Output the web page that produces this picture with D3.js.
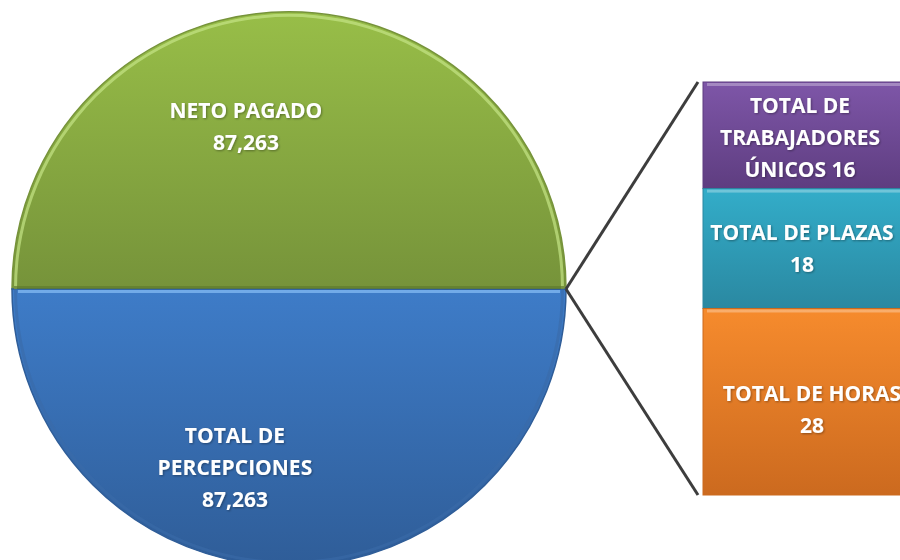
<!DOCTYPE html>
<html>
<head>
<meta charset="utf-8">
<script src="https://cdn.jsdelivr.net/npm/d3@7"></script>
<style>
  body { margin: 0; background: #fff; }
  svg text { font-family: "Open Sans", sans-serif; font-weight: bold; fill: #fff; }
</style>
</head>
<body>
<div id="chart-area"></div>
<script>

// Pie (two big slices) + the small "other" group shown as a bar
var pieLabels = ["NETO PAGADO", "TOTAL DE\nPERCEPCIONES"];
var pieValues = [87263, 87263];
var barLabels = ["TOTAL DE\nTRABAJADORES\nÚNICOS", "TOTAL DE PLAZAS", "TOTAL DE HORAS"];
var barValues = [16, 18, 28];

var width = 900, height = 560;

var svg = d3.select("#chart-area").append("svg")
    .attr("width", width)
    .attr("height", height);

var defs = svg.append("defs");

// gradients, top colour -> bottom colour
var pieColors = [["#98be48", "#76933a"], ["#3e7cc8", "#2f5d98"]];
var barColors = [["#7e56a8", "#5e3d80"], ["#33adc9", "#2a88a1"], ["#f68b2d", "#cc6a1f"]];

function grad(id, c) {
    var lg = defs.append("linearGradient")
        .attr("id", id)
        .attr("x1", 0).attr("y1", 0).attr("x2", 0).attr("y2", 1);
    lg.append("stop").attr("offset", "0%").attr("stop-color", c[0]);
    lg.append("stop").attr("offset", "100%").attr("stop-color", c[1]);
}
pieColors.forEach(function(c, i){ grad("pg" + i, c); });
barColors.forEach(function(c, i){ grad("bg" + i, c); });

// soft text shadow
var sh = defs.append("filter").attr("id", "tshadow")
    .attr("x", "-10%").attr("y", "-10%").attr("width", "120%").attr("height", "130%");
sh.append("feDropShadow")
    .attr("dx", 1).attr("dy", 1).attr("stdDeviation", 0.8)
    .attr("flood-color", "#000").attr("flood-opacity", 0.35);

var fmt = d3.format(",");

// ---- Pie ----
var cx = 289, cy = 289, r = 277;
var otherTotal = d3.sum(barValues);
var allValues = [pieValues[0], otherTotal, pieValues[1]];
var total = d3.sum(allValues);
var greenAng = 2 * Math.PI * pieValues[0] / total;
var otherAng = 2 * Math.PI * otherTotal / total;
var start = Math.PI / 2 - greenAng - otherAng / 2;

var pie = d3.pie().sort(null).value(function(d){ return d; })
    .startAngle(start).endAngle(start + 2 * Math.PI);
var arcs = pie(allValues);

var arc = d3.arc().innerRadius(0).outerRadius(r);
var labelArc = d3.arc().innerRadius(171).outerRadius(171);

var pg = svg.append("g").attr("transform", "translate(" + cx + "," + cy + ")");

var slices = [arcs[0], arcs[2]];

pg.selectAll(".slice")
    .data(slices)
    .enter().append("path")
    .attr("class", "slice")
    .attr("d", arc)
    .attr("fill", function(d, i){ return "url(#pg" + i + ")"; })
    .attr("stroke", function(d, i){ return pieColors[i][1]; })
    .attr("stroke-width", 1.5);

// bevel highlight along the rim and cut edge
var rim = d3.arc().innerRadius(r - 5).outerRadius(r - 2);
pg.selectAll(".rim")
    .data(slices)
    .enter().append("path")
    .attr("class", "rim")
    .attr("d", rim)
    .attr("fill", function(d, i){ return i == 0 ? "#c4e486" : "#3a6aa8"; })
    .attr("opacity", function(d, i){ return i == 0 ? 0.7 : 0.6; });

pg.append("rect")
    .attr("x", -r + 6).attr("y", 1)
    .attr("width", 2 * r - 12).attr("height", 3)
    .attr("fill", "#7fb6f0").attr("opacity", 0.8);
pg.append("rect")
    .attr("x", -r + 2).attr("y", -3)
    .attr("width", 2 * r - 4).attr("height", 3)
    .attr("fill", "#5e7a2e").attr("opacity", 0.7);

// pie labels (Excel nudges them off the centroid a bit)
var pieLabelShift = [[-43, 8], [-54, 8]];
slices.forEach(function(d, i){
    var c = labelArc.centroid(d);
    var lines = pieLabels[i].split("\n").concat([fmt(pieValues[i])]);
    var t = pg.append("text")
        .attr("text-anchor", "middle")
        .attr("font-size", "21px")
        .attr("filter", "url(#tshadow)")
        .attr("transform", "translate(" + (c[0] + pieLabelShift[i][0]) + "," + (c[1] + pieLabelShift[i][1]) + ")");
    lines.forEach(function(s, k){
        t.append("tspan")
            .attr("x", 0)
            .attr("y", (k - (lines.length - 1) / 2) * 32 + 7.5)
            .text(s);
    });
});

// ---- Bar of the small values ----
var barX = 703, barW = 200;
var y = d3.scaleLinear().domain([0, otherTotal]).range([82, 495]);

var stack = [];
var acc = 0;
barValues.forEach(function(v, i){
    stack.push({ y0: acc, y1: acc + v, value: v, label: barLabels[i], i: i });
    acc += v;
});

// connector lines
var conn = svg.append("g");
conn.append("line")
    .attr("x1", cx + r).attr("y1", cy)
    .attr("x2", barX - 5).attr("y2", y(0))
    .attr("stroke", "#3d3d3d").attr("stroke-width", 3);
conn.append("line")
    .attr("x1", cx + r).attr("y1", cy)
    .attr("x2", barX - 5).attr("y2", y(otherTotal))
    .attr("stroke", "#3d3d3d").attr("stroke-width", 3);

var bg = svg.append("g");

bg.selectAll(".seg")
    .data(stack)
    .enter().append("rect")
    .attr("class", "seg")
    .attr("x", barX)
    .attr("y", function(d){ return y(d.y0); })
    .attr("width", barW)
    .attr("height", function(d){ return y(d.y1) - y(d.y0); })
    .attr("fill", function(d){ return "url(#bg" + d.i + ")"; })
    .attr("stroke", function(d){ return barColors[d.i][1]; })
    .attr("stroke-width", 1);

// top highlight of each segment
bg.selectAll(".hi")
    .data(stack)
    .enter().append("rect")
    .attr("class", "hi")
    .attr("x", barX + 4)
    .attr("y", function(d){ return y(d.y0) + 1; })
    .attr("width", barW - 4)
    .attr("height", 3)
    .attr("fill", "#fff")
    .attr("opacity", 0.3);

// bar labels
var barLabelShift = [[97, 2], [99, 0], [109, 8]];
stack.forEach(function(d){
    var lines = d.label.split("\n");
    if (lines.length > 2) lines[lines.length - 1] += " " + d.value;
    else lines.push(String(d.value));
    var mid = (y(d.y0) + y(d.y1)) / 2;
    var t = bg.append("text")
        .attr("text-anchor", "middle")
        .attr("font-size", "21px")
        .attr("filter", "url(#tshadow)")
        .attr("transform", "translate(" + (barX + barLabelShift[d.i][0]) + "," + (mid + barLabelShift[d.i][1]) + ")");
    lines.forEach(function(s, k){
        t.append("tspan")
            .attr("x", 0)
            .attr("y", (k - (lines.length - 1) / 2) * 32 + 7.5)
            .text(s);
    });
});

</script>
</body>
</html>
